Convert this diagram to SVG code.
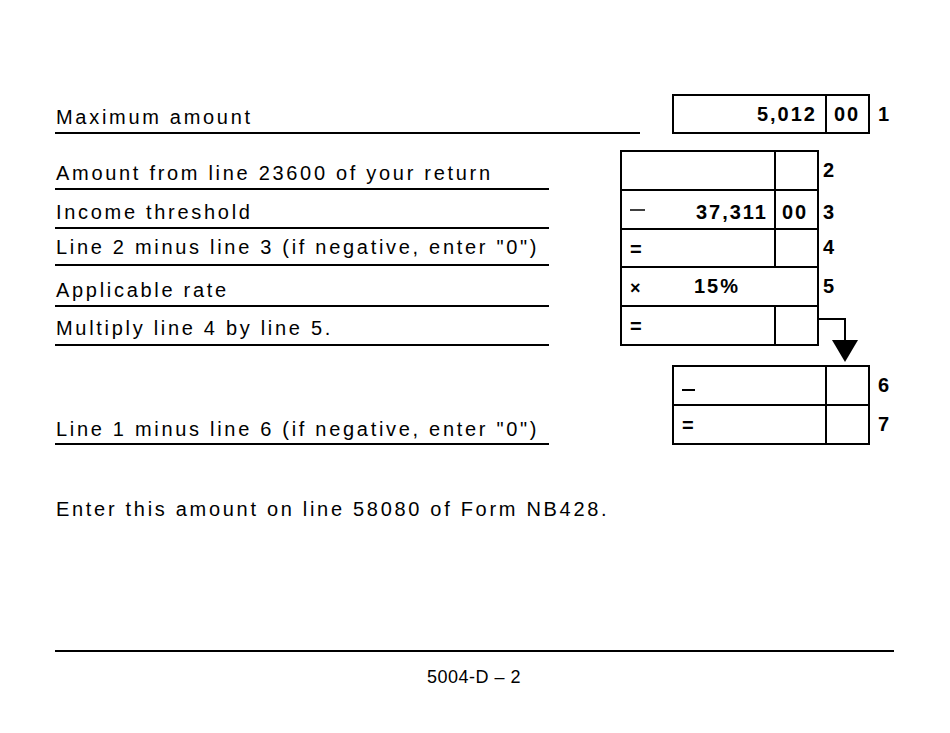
<svg xmlns="http://www.w3.org/2000/svg" width="950" height="733" viewBox="0 0 950 733">
<style>
.t{font-family:"Liberation Sans",Arial,sans-serif;font-size:20px;letter-spacing:2.7px;fill:#000}
.b{font-family:"Liberation Sans",Arial,sans-serif;font-size:20px;font-weight:bold;letter-spacing:2px;fill:#000}
.l{stroke:#000;stroke-width:2;fill:none}
</style>
<rect width="950" height="733" fill="#fff"/>
<g id="labels">
<text class="t" x="56" y="124">Maximum amount</text><line class="l" x1="55" y1="133" x2="640" y2="133"/>
<text class="t" x="56" y="180">Amount from line 23600 of your return</text><line class="l" x1="55" y1="189" x2="549" y2="189"/>
<text class="t" x="56" y="219">Income threshold</text><line class="l" x1="55" y1="228" x2="549" y2="228"/>
<text class="t" x="56" y="254">Line 2 minus line 3 (if negative, enter "0")</text><line class="l" x1="55" y1="265" x2="549" y2="265"/>
<text class="t" x="56" y="297">Applicable rate</text><line class="l" x1="55" y1="306" x2="549" y2="306"/>
<text class="t" x="56" y="335">Multiply line 4 by line 5.</text><line class="l" x1="55" y1="345" x2="549" y2="345"/>
<text class="t" x="56" y="436">Line 1 minus line 6 (if negative, enter "0")</text><line class="l" x1="55" y1="444" x2="549" y2="444"/>
<text class="t" x="56" y="516">Enter this amount on line 58080 of Form NB428.</text>
<line class="l" x1="55" y1="651" x2="894" y2="651"/>
<text x="474" y="683" text-anchor="middle" style="font-family:'Liberation Sans',Arial,sans-serif;font-size:18px;letter-spacing:0.5px">5004-D – 2</text>
</g>
<g id="box1">
<rect class="l" x="673" y="95" width="196" height="38"/><line class="l" x1="826" y1="95" x2="826" y2="133"/>
<text class="b" x="817" y="121" text-anchor="end">5,012</text><text class="b" x="834" y="121">00</text>
<text class="b" x="878" y="121">1</text>
</g>
<g id="box2to5">
<rect class="l" x="621" y="151" width="197" height="194"/>
<line class="l" x1="621" y1="190" x2="818" y2="190"/><line class="l" x1="621" y1="229" x2="818" y2="229"/>
<line class="l" x1="621" y1="267" x2="818" y2="267"/><line class="l" x1="621" y1="306" x2="818" y2="306"/>
<line class="l" x1="775" y1="151" x2="775" y2="267"/><line class="l" x1="775" y1="306" x2="775" y2="345"/>
<text class="b" x="823" y="177">2</text>
<line x1="630" y1="210" x2="645" y2="210" stroke="#000" stroke-width="1.5"/><text class="b" x="768" y="219" text-anchor="end">37,311</text><text class="b" x="782" y="219">00</text><text class="b" x="823" y="219">3</text>
<text class="b" x="630" y="256">=</text><text class="b" x="823" y="254">4</text>
<text class="b" x="630" y="294" style="font-size:18px">×</text><text class="b" x="694" y="293">15%</text><text class="b" x="823" y="293">5</text>
<text class="b" x="630" y="333">=</text>
</g>
<g id="connectors">
<polyline class="l" points="818,319 845,319 845,342"/>
<polygon points="832,340 858,340 845,362" fill="#000"/>
</g>
<g id="box6to7">
<rect class="l" x="673" y="366" width="196" height="78"/>
<line class="l" x1="673" y1="405" x2="869" y2="405"/><line class="l" x1="826" y1="366" x2="826" y2="444"/>
<line x1="682" y1="390" x2="695" y2="390" stroke="#000" stroke-width="2"/><text class="b" x="682" y="432">=</text>
<text class="b" x="878" y="392">6</text><text class="b" x="878" y="431">7</text>
</g>
</svg>
